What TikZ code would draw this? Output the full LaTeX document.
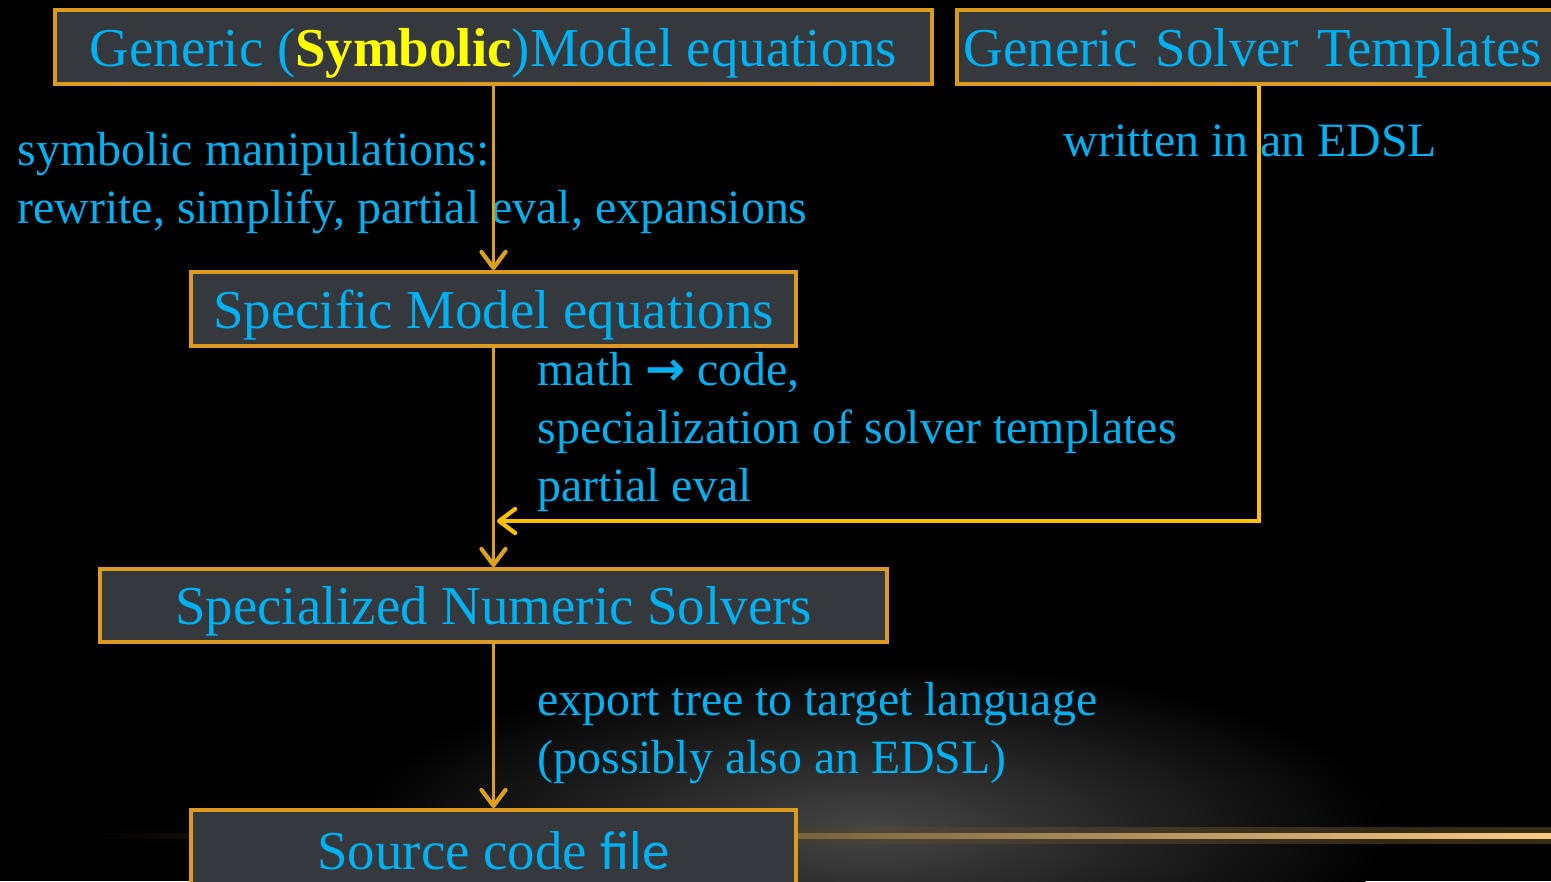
\documentclass[tikz,border=0pt]{standalone}
\usepackage{fontspec}
\setmainfont{Liberation Serif}
\newfontfamily\arrowfont{DejaVu Sans}
\newfontfamily\filefont{Carlito}
\usetikzlibrary{arrows.meta,positioning}

\definecolor{boxfill}{RGB}{53,56,61}
\definecolor{boxline}{RGB}{218,155,32}
\definecolor{flowline}{RGB}{218,160,30}
\definecolor{feedline}{RGB}{255,192,0}
\definecolor{txtblue}{RGB}{0,176,240}
\definecolor{symyellow}{RGB}{255,255,0}
\definecolor{glow}{RGB}{245,190,100}
\definecolor{haze}{RGB}{70,70,70}

\begin{document}
\begin{tikzpicture}
[x=0.01cm,y=-0.01cm,
  >={Straight Barb[length=1.6mm,width=2.4mm,line width=1.2pt,round]},
  box/.style={draw=boxline,fill=boxfill,line width=1.1pt,inner sep=0pt,
    text height=11pt,text depth=0pt,
    text=txtblue,font=\fontsize{15.6}{19}\selectfont},
  note/.style={text=txtblue,inner sep=0pt,anchor=base west,align=left,
    font=\fontsize{13.6}{16.4}\selectfont},
  flow/.style={->,draw=flowline,line width=0.9pt},
  feed/.style={->,draw=feedline,line width=1.3pt}]

  % page and background
  \fill[black] (0,0) rectangle (1551,881);
  \useasboundingbox (0,0) rectangle (1551,881);

  % floor glow
  \shade[inner color=haze,outer color=black] (870,830) ellipse (520 and 170);
  \shade[left color=black,middle color=glow!60!black,right color=glow!70!black,opacity=.35]
    (90,827) rectangle (1551,843);
  \shade[left color=black,middle color=glow,right color=glow!80!white]
    (90,833) rectangle (1551,838);

  % boxes
  \node[box,minimum width=8.77cm,minimum height=0.74cm] (generic) at (493.5,47)
    {Generic (\textcolor{symyellow}{\textbf{Symbolic}})Model equations};
  \node[box,anchor=west,minimum height=0.74cm,text width=5.9cm,inner xsep=0.07cm,align=left]
    (templates) at (955,47) {\mbox{Generic Solver Templates}};
  \node[box,minimum width=6.05cm,minimum height=0.74cm] (specific) at (493.5,309)
    {Specific Model equations};
  \node[box,minimum width=7.87cm,minimum height=0.73cm] (solvers) at (493.5,605.5)
    {Specialized Numeric Solvers};
  \node[box,minimum width=6.05cm,minimum height=0.80cm] (source) at (493.5,850)
    {Source code {\filefont file}};

  % notes beside the arrows (placed by the baseline of their last line)
  \node[note] (manip) at (17,223)
    {symbolic manipulations:\\rewrite, simplify, partial eval, expansions};
  \node[note] (edsl) at (1063,156) {written in an EDSL};
  \node[note] (codegen) at (537,501)
    {math {\arrowfont\bfseries →} code,\\specialization of solver templates\\partial eval};
  \node[note] (export) at (537,773)
    {export tree to target language\\(possibly also an EDSL)};

  % connectors
  \coordinate (merge) at (497,521);
  \foreach \from/\to in {generic/specific,specific/solvers,solvers/source}
    \draw[flow] (\from) -- (\to);
  \draw[feed] (templates.south) |- (merge);

\end{tikzpicture}
\end{document}
